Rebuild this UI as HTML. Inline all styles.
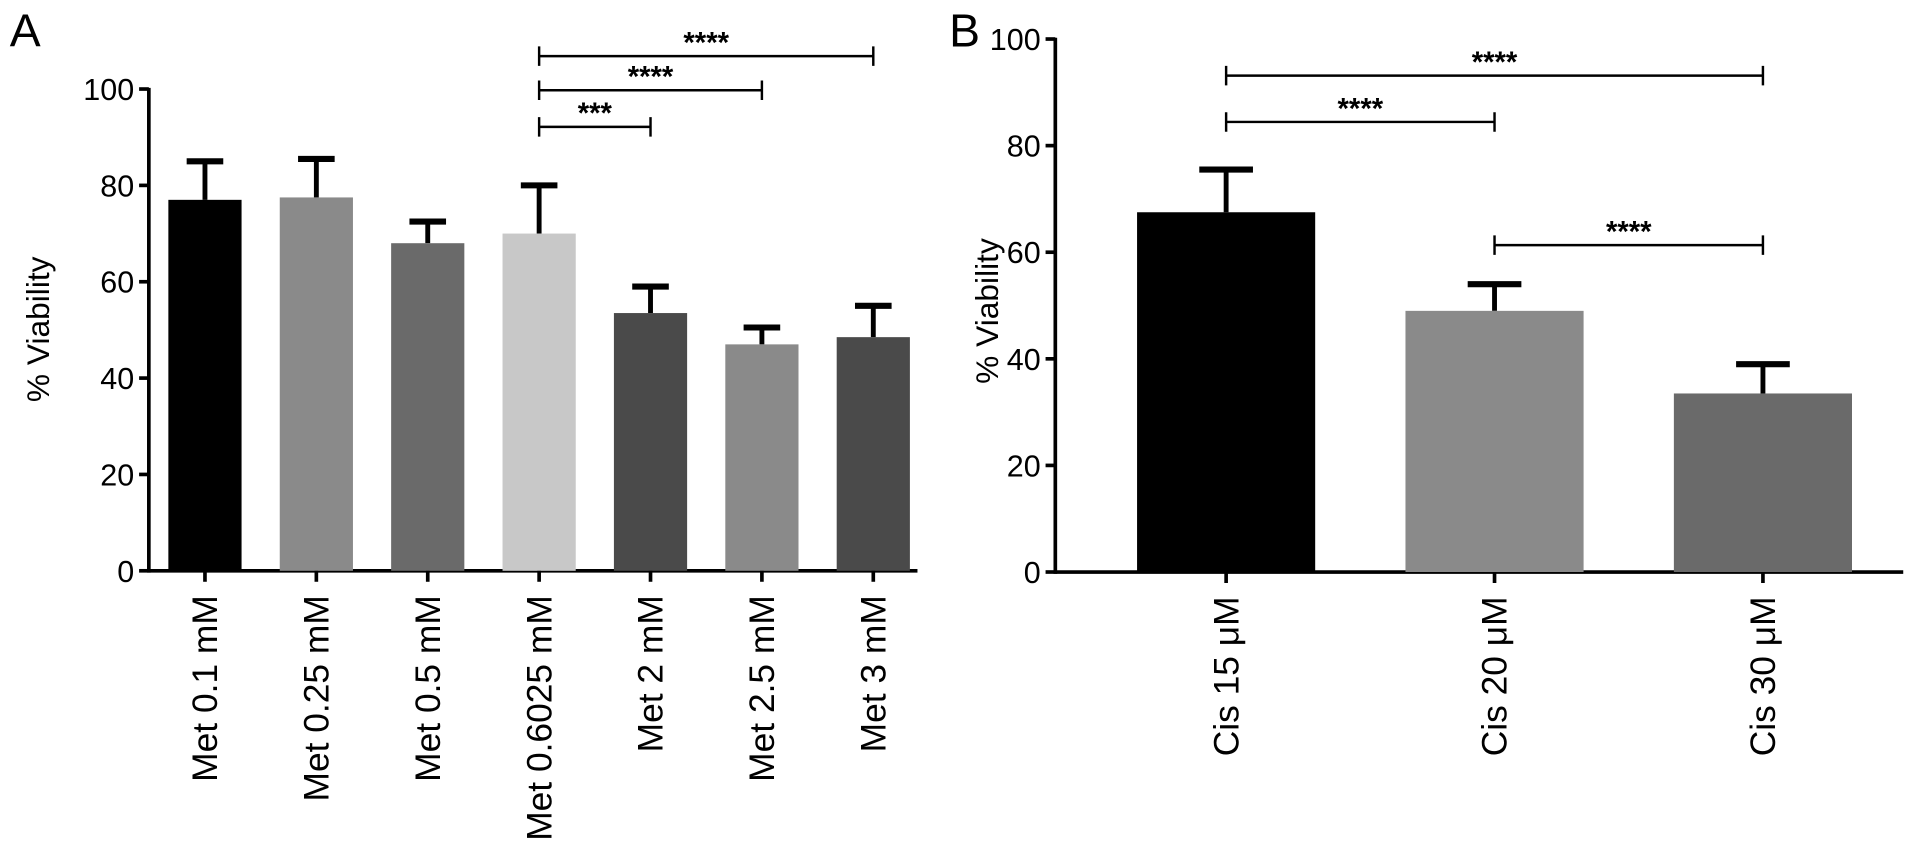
<!DOCTYPE html>
<html><head><meta charset="utf-8"><style>
body{margin:0;background:#fff}
svg{display:block;font-family:"Liberation Sans",sans-serif}
</style></head><body>
<svg id="s" width="1913" height="844" viewBox="0 0 1568 692" preserveAspectRatio="none"></svg>
<script>
const catsA=["Met 0.1 mM","Met 0.25 mM","Met 0.5 mM","Met 0.6025 mM","Met 2 mM","Met 2.5 mM","Met 3 mM"];
const valsA=[77,77.5,68,70,53.5,47,48.5];
const errA=[85,85.5,72.5,80,59,50.5,55];
const colA=["#000","#8a8a8a","#6a6a6a","#c8c8c8","#4a4a4a","#8a8a8a","#4a4a4a"];
const sigA=[[3,6,"****",46],[3,5,"****",74],[3,4,"***",104]];
const catsB=["Cis 15 μM","Cis 20 μM","Cis 30 μM"];
const valsB=[67.5,49,33.5];
const errB=[75.5,54,39];
const colB=["#000","#8a8a8a","#6a6a6a"];
const sigB=[[0,2,"****",62],[0,1,"****",100],[1,2,"****",201]];
const ticks=[0,20,40,60,80,100];
const S=document.getElementById('s');
function el(t,a,txt){const e=document.createElementNS("http://www.w3.org/2000/svg",t);for(const k in a)e.setAttribute(k,a[k]);if(txt!==undefined)e.textContent=txt;S.appendChild(e);return e;}
function panel(p){
  const y=v=>p.y0-(p.y0-p.y100)*v/100;
  const x=i=>p.x1+i*p.step;
  let e=el("line",{x1:p.ax,x2:p.ax,y1:p.y100-1,y2:p.y0+1.5,stroke:"#000","stroke-width":3});
  
  e=el("line",{x1:p.ax,x2:p.xend,y1:p.y0,y2:p.y0,stroke:"#000","stroke-width":3});
  
  ticks.forEach(t=>{
    e=el("line",{x1:p.ax-8,x2:p.ax,y1:y(t),y2:y(t),stroke:"#000","stroke-width":3});
    
    e=el("text",{x:p.ax-12,y:y(t)+9,"text-anchor":"end","font-size":25},t);
    
  });
  p.vals.forEach((v,i)=>{
    const cx=x(i);
    e=el("line",{x1:cx,x2:cx,y1:y(p.err[i]),y2:y(v),stroke:"#000","stroke-width":4});
    
    e=el("line",{x1:cx-p.cap,x2:cx+p.cap,y1:y(p.err[i]),y2:y(p.err[i]),stroke:"#000","stroke-width":5});
    
    e=el("rect",{x:cx-p.bw/2,y:y(v),width:p.bw,height:p.y0-y(v),fill:p.col[i]});
    
    e=el("line",{x1:cx,x2:cx,y1:p.y0,y2:p.y0+9,stroke:"#000","stroke-width":3});
    
    e=el("text",{x:0,y:0,"text-anchor":"end","font-size":29,transform:`translate(${cx+10},${p.y0+20}) rotate(-90)`},p.cats[i]);
    
  });
  p.sig.forEach(s=>{
    const a=x(s[0]),b=x(s[1]),yy=s[3];
    e=el("path",{d:`M${a},${yy-8}V${yy+8}M${a},${yy}H${b}M${b},${yy-8}V${yy+8}`,stroke:"#000","stroke-width":2,fill:"none"});
    
    e=el("text",{x:(a+b)/2,y:yy-3,"text-anchor":"middle","font-size":24,"font-weight":"bold"},s[2]);
    
  });
  e=el("text",{x:0,y:0,"text-anchor":"middle","font-size":26,transform:`translate(${p.ylx},${p.yly}) rotate(-90)`},"% Viability");
  
  e=el("text",{x:p.lx,y:38,"font-size":38},p.letter);
  
}
panel({id:"a",letter:"A",lx:8,ax:122,xend:752,y0:468,y100:73,x1:168,step:91.3,bw:60,cap:15,cats:catsA,vals:valsA,err:errA,col:colA,sig:sigA,ylx:40,yly:270});
panel({id:"b",letter:"B",lx:778,ax:865,xend:1560,y0:469,y100:32,x1:1005,step:220,bw:146,cap:22,cats:catsB,vals:valsB,err:errB,col:colB,sig:sigB,ylx:818,yly:255});
</script>
</body></html>
